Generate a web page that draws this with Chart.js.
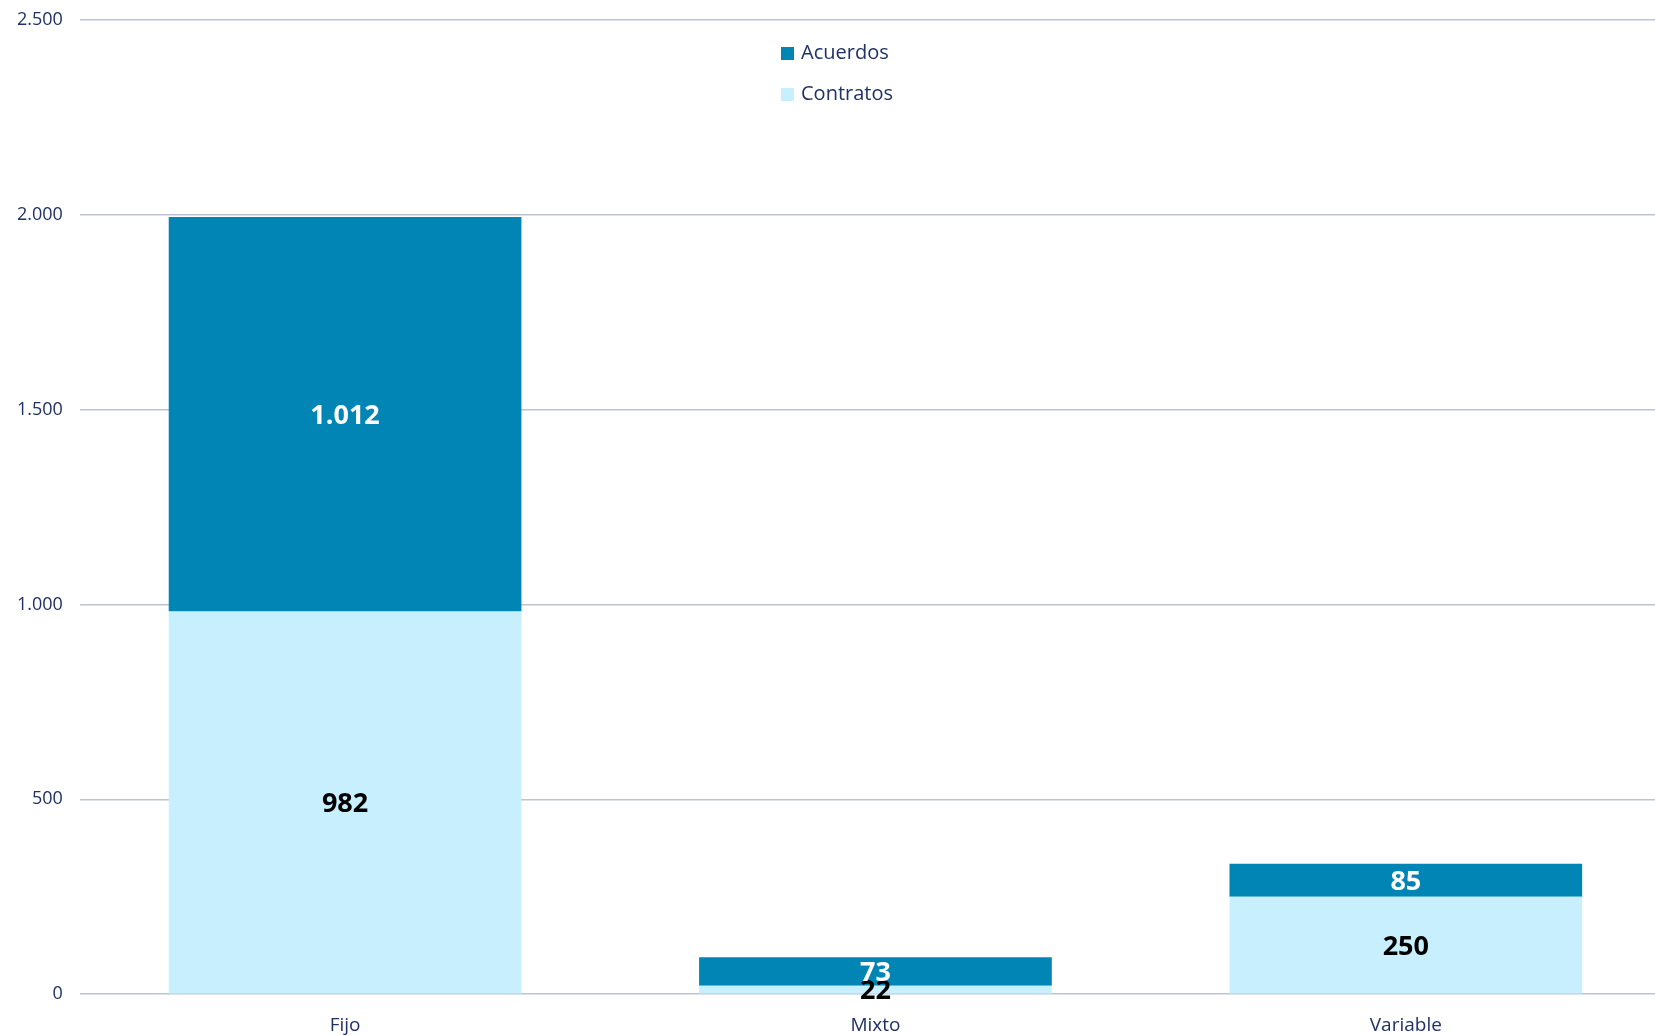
<!DOCTYPE html>
<html><head><meta charset="utf-8">
<script src="https://cdn.jsdelivr.net/npm/chart.js@4"></script>
<style>html,body{margin:0;padding:0;background:#fff;overflow:hidden;width:1655px;height:1035px;}canvas{display:block;margin-top:-8px;}</style>
</head><body>
<canvas id="c" width="1671" height="1043"></canvas>
<script>
const categories = ['Fijo', 'Mixto', 'Variable'];
const contratos = [982, 22, 250];
const acuerdos = [1012, 73, 85];
const yTicks = [0, 500, 1000, 1500, 2000, 2500];

const FONT = '"Open Sans", "Noto Sans", sans-serif';
const NAVY = '#1F3167';
const DARK = '#0085B4';
const LIGHT = '#C8EFFD';

function fmt(v){ return String(v).replace(/\B(?=(\d{3})+(?!\d))/g, '.'); }

const labelPlugin = {
  id: 'segLabels',
  afterDatasetsDraw(chart){
    const ctx = chart.ctx;
    ctx.save();
    ctx.font = 'bold 27px ' + FONT;
    ctx.textAlign = 'center';
    ctx.textBaseline = 'middle';
    chart.data.datasets.forEach((ds, di) => {
      const meta = chart.getDatasetMeta(di);
      meta.data.forEach((bar, i) => {
        const {x, y, base} = bar.getProps(['x','y','base'], true);
        ctx.fillStyle = ds.labelColor;
        ctx.fillText(fmt(ds.data[i]), x, (y + base) / 2 + 2);
      });
    });
    ctx.restore();
  }
};

const legendPlugin = {
  id: 'customLegend',
  afterDraw(chart){
    const ctx = chart.ctx;
    ctx.save();
    ctx.font = '20px ' + FONT;
    ctx.textBaseline = 'middle';
    ctx.textAlign = 'left';
    const items = [['Acuerdos', DARK], ['Contratos', LIGHT]];
    items.forEach((it, k) => {
      const yy = 8 + 53 + k * 41;
      ctx.fillStyle = it[1];
      ctx.fillRect(781, yy - 6, 13, 13);
      ctx.fillStyle = NAVY;
      ctx.fillText(it[0], 801, yy);
    });
    ctx.restore();
  }
};

new Chart(document.getElementById('c'), {
  type: 'bar',
  data: {
    labels: categories,
    datasets: [
      { label: 'Contratos', data: contratos, backgroundColor: LIGHT, labelColor: '#000', categoryPercentage: 0.665, barPercentage: 1 },
      { label: 'Acuerdos', data: acuerdos, backgroundColor: DARK, labelColor: '#fff', categoryPercentage: 0.665, barPercentage: 1 }
    ]
  },
  options: {
    responsive: false,
    animation: false,
    layout: { padding: { top: 0, right: 0, left: 0, bottom: -22 } },
    plugins: { legend: { display: false }, tooltip: { enabled: false }, title: { display: false } },
    scales: {
      x: {
        stacked: true,
        grid: { display: false, drawTicks: false },
        border: { display: false },
        ticks: { color: NAVY, font: { family: FONT, size: 19 }, padding: 20 }
      },
      y: {
        stacked: true,
        min: 0, max: 2500,
        afterBuildTicks: (axis) => { axis.ticks = yTicks.map(v => ({ value: v })); },
        grid: { color: '#BCC4D4', lineWidth: 1.5, drawTicks: false },
        border: { display: false },
        ticks: { color: NAVY, font: { family: FONT, size: 18 }, padding: 17, callback: (v) => fmt(v) }
      }
    }
  },
  plugins: [labelPlugin, legendPlugin]
});
</script>
</body></html>
